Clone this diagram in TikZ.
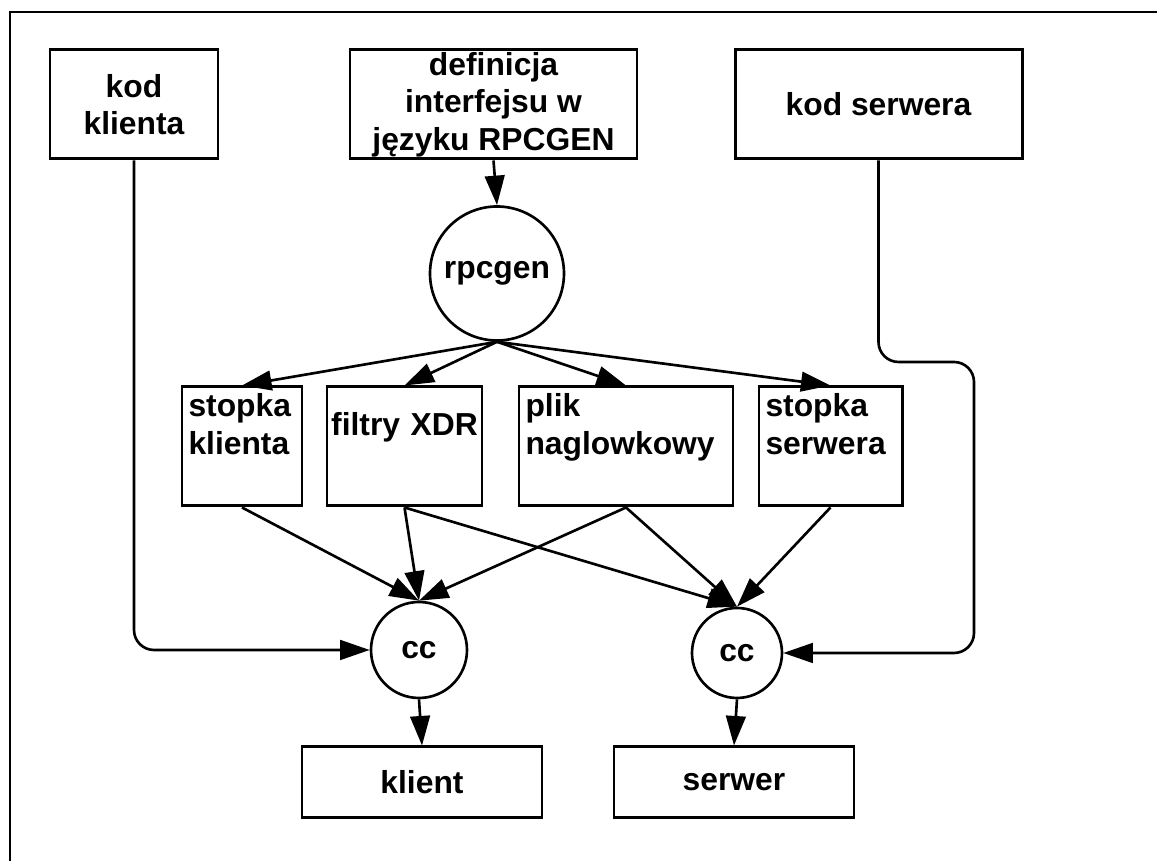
\documentclass[tikz,border=0pt]{standalone}
\usepackage{fontspec}
\setmainfont{Liberation Sans}
\usetikzlibrary{arrows.meta}

\begin{document}
\begin{tikzpicture}[
  font=\fontsize{9.05}{10.7}\selectfont\bfseries,
  box/.style={draw, line width=0.85pt, inner xsep=0.05cm, inner ysep=0pt, align=center},
  stub/.style={draw, line width=0.85pt, inner xsep=0.065cm, inner ysep=0pt, align=left,
               text width=#1, text height=0.30cm, text depth=0.89cm},
  proc/.style={draw, circle, line width=0.75pt, inner sep=0pt},
  flow/.style={line width=0.75pt, -{Triangle[length=8.4pt,width=5.6pt]}},
  feed/.style={flow, rounded corners=0.2cm}]

% frame
\useasboundingbox (0,0) rectangle (11.57,8.61);
\draw[line width=0.65pt] (0.10,0) -- (0.10,8.49) -- (11.57,8.49);

% definitions
\node[box, minimum width=1.68cm, minimum height=1.09cm] (kodkl) at (1.34,7.565) {kod\\klienta};
\node[box, minimum width=2.87cm, minimum height=1.09cm] (def) at (4.935,7.565) {definicja\\interfejsu w\\języku RPCGEN};
\node[box, minimum width=2.87cm, minimum height=1.09cm] (kodsrv) at (8.785,7.565) {kod serwera};
\node[proc, minimum size=1.34cm] (rpcgen) at (4.97,5.875) {rpcgen};

\node[stub=1.07cm] (stkl) at (2.42,4.145) {stopka\\klienta};
\node[stub=1.50cm, inner xsep=0.025cm, align=center, text height=0.49cm, text depth=0.70cm] (filt) at (4.045,4.145) {filtry XDR};
\node[stub=2.01cm] (plik) at (6.26,4.145) {plik\\naglowkowy};
\node[stub=1.30cm] (stsrv) at (8.305,4.145) {stopka\\serwera};

\node[proc, minimum size=0.96cm] (cca) at (4.19,2.11) {cc};
\node[proc, minimum size=0.90cm] (ccb) at (7.37,2.08) {cc};
\node[box, minimum width=2.40cm, minimum height=0.71cm] (klient) at (4.22,0.785) {klient};
\node[box, minimum width=2.40cm, minimum height=0.71cm] (serwer) at (7.34,0.785) {serwer};
\coordinate (bend) at (9.74,4.99); % turn of the server line

% drawing
\draw[flow] (def.south) -- (rpcgen.north);
\draw[flow] (rpcgen.south) -- (stkl.north);
\draw[flow] (rpcgen.south) -- (filt.north);
\draw[flow] (rpcgen.south) -- (plik.north);
\draw[flow] (rpcgen.south) -- (stsrv.north);

\draw[flow] (stkl.south) -- (cca.north);
\draw[flow] (filt.south) -- (cca.north);
\draw[flow] (plik.south) -- (cca.north);
\draw[flow] (filt.south) -- (ccb.north);
\draw[flow] (plik.south) -- (ccb.north);
\draw[flow] (stsrv.south) -- (ccb.north);

\draw[flow] (cca.south) -- (klient.north);
\draw[flow] (ccb.south) -- (serwer.north);
\draw[feed] (kodkl.south) |- (cca.west);
\draw[feed] (kodsrv.south) |- (bend) |- (ccb.east);
\end{tikzpicture}
\end{document}
